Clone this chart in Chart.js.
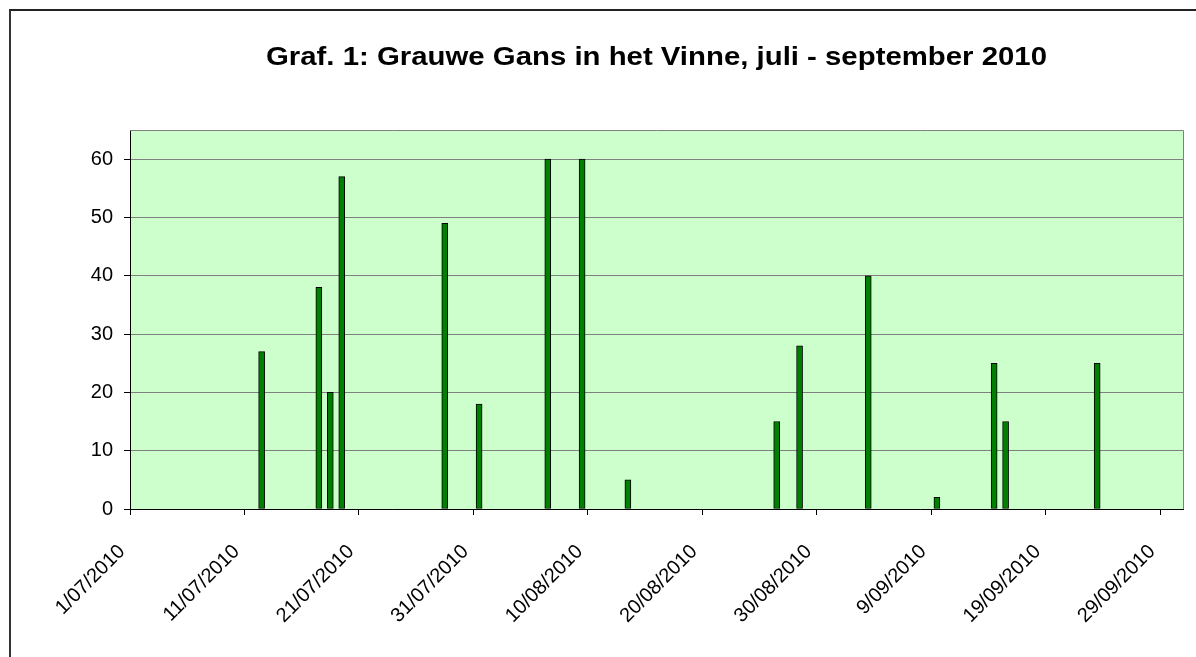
<!DOCTYPE html>
<html>
<head>
<meta charset="utf-8">
<script src="https://cdn.jsdelivr.net/npm/chart.js@4/dist/chart.umd.min.js"></script>
<style>
  html, body { margin: 0; padding: 0; background: #fff; }
  #wrap { position: relative; width: 1196px; height: 657px; overflow: hidden; }
  #frame { position: absolute; left: 9px; top: 9px; width: 1400px; height: 800px;
           border-top: 2px solid #222; border-left: 2px solid #333; }
  canvas { position: absolute; left: 0; top: 0; }
</style>
</head>
<body>
<div id="wrap">
  <div id="frame"></div>
  <canvas id="chart" width="1196" height="657"></canvas>
</div>
<script>
// counting dates and number of birds
const dates = ['12/07/2010', '17/07/2010', '18/07/2010', '19/07/2010', '28/07/2010', '31/07/2010',
  '6/08/2010', '9/08/2010', '13/08/2010', '26/08/2010', '28/08/2010', '3/09/2010',
  '9/09/2010', '14/09/2010', '15/09/2010', '23/09/2010'];
const counts = [27, 38, 20, 57, 49, 18, 60, 60, 5, 15, 28, 40, 2, 25, 15, 25];

// axis labels, one every 10 days from 1 July
const tickLabels = ['1/07/2010', '11/07/2010', '21/07/2010', '31/07/2010', '10/08/2010',
  '20/08/2010', '30/08/2010', '9/09/2010', '19/09/2010', '29/09/2010'];

const TITLE = 'Graf. 1: Grauwe Gans in het Vinne, juli - september 2010';

// days since 1 July 2010
function dayOf(s) {
  const [d, m, y] = s.split('/').map(Number);
  return (Date.UTC(y, m - 1, d) - Date.UTC(2010, 6, 1)) / 86400000;
}

const points = dates.map((d, i) => ({ x: dayOf(d) + 0.5, y: counts[i] }));

const plotBg = {
  id: 'plotBg',
  beforeDraw(chart) {
    const { ctx, chartArea: a } = chart;
    ctx.save();
    ctx.fillStyle = '#ccffcc';
    ctx.fillRect(a.left, a.top, a.right - a.left, a.bottom - a.top);
    ctx.restore();
  },
  afterDraw(chart) {
    const { ctx, chartArea: a } = chart;
    ctx.save();
    ctx.strokeStyle = '#808080';
    ctx.lineWidth = 1;
    ctx.beginPath();
    ctx.moveTo(a.left, a.top + 0.5);
    ctx.lineTo(a.right + 0.5, a.top + 0.5);
    ctx.lineTo(a.right + 0.5, a.bottom);
    ctx.stroke();
    // title, stretched a little to the width of the original
    ctx.fillStyle = '#000';
    ctx.font = 'bold 26px "Liberation Sans", Arial, sans-serif';
    ctx.textAlign = 'center';
    ctx.textBaseline = 'alphabetic';
    const w = ctx.measureText(TITLE).width;
    ctx.translate((a.left + a.right) / 2, 65);
    ctx.scale(781 / w, 1);
    ctx.fillText(TITLE, 0, 0);
    ctx.restore();
  }
};

new Chart(document.getElementById('chart'), {
  type: 'bar',
  data: {
    datasets: [{
      data: points,
      backgroundColor: '#008000',
      borderColor: '#000',
      borderWidth: 1,
      borderSkipped: false,
      barThickness: 6
    }]
  },
  options: {
    responsive: false,
    animation: false,
    layout: { padding: { top: 130, right: 13, left: 0, bottom: 0 } },
    plugins: { legend: { display: false }, tooltip: { enabled: false } },
    scales: {
      x: {
        type: 'linear',
        min: 0,
        max: 92,
        offset: false,
        afterFit(scale) {
          scale.height = 148;
          scale.paddingLeft = 0;
          scale.paddingRight = 0;
        },
        grid: { display: true, drawOnChartArea: false, drawTicks: true, tickLength: 6,
                tickColor: '#000', offset: false },
        border: { color: '#000' },
        ticks: {
          stepSize: 10,
          includeBounds: false,
          autoSkip: false,
          minRotation: 45,
          maxRotation: 45,
          padding: 25,
          labelOffset: -8,
          color: '#000',
          font: { family: '"Liberation Sans", Arial, sans-serif', size: 20 },
          callback: (v) => tickLabels[v / 10]
        }
      },
      y: {
        min: 0,
        max: 65,
        afterFit(scale) { scale.width = 130; },
        grid: { color: '#808080', tickLength: 6, tickColor: '#000' },
        border: { color: '#000' },
        ticks: {
          stepSize: 10,
          includeBounds: false,
          padding: 11,
          color: '#000',
          font: { family: '"Liberation Sans", Arial, sans-serif', size: 20 }
        }
      }
    }
  },
  plugins: [plotBg]
});
</script>
</body>
</html>
